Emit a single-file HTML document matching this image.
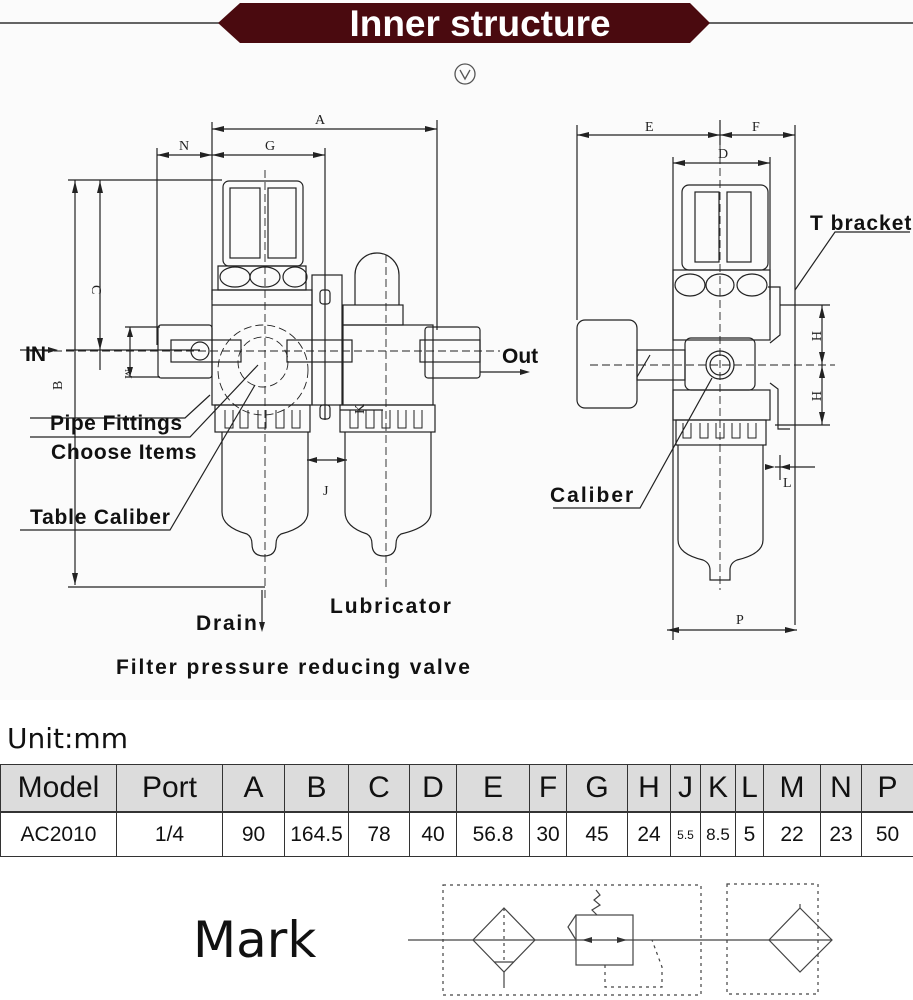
<!DOCTYPE html>
<html><head><meta charset="utf-8"><style>
html,body{margin:0;padding:0;background:#fff;}
body{width:913px;height:1000px;position:relative;overflow:hidden;font-family:"Liberation Sans",sans-serif;}
svg{position:absolute;left:0;top:0}
.t{font-family:"Liberation Sans",sans-serif;font-weight:bold;fill:#111}
.s{font-family:"Liberation Serif",serif;fill:#222;font-size:14px}
table{position:absolute;left:0;top:764px;width:913px;border-collapse:collapse;table-layout:fixed}
td{border:1.5px solid #333;text-align:center;padding:0;font-size:21px;color:#111;overflow:hidden;white-space:nowrap}
tr.h td{background:#dcdcdc;height:46px;font-size:30px;border-bottom:2.5px solid #333}
tr.d td{height:43px}
</style></head><body>
<svg width="913" height="1000" viewBox="0 0 913 1000">
<rect x="0" y="0" width="913" height="700" fill="#fbfbfb"/>
<line x1="0" y1="23" x2="913" y2="23" stroke="#333" stroke-width="1.5"/>
<polygon points="218,23 240,3 690,3 710,23 690,43 240,43" fill="#4a0a0f"/>
<text x="480" y="36" text-anchor="middle" class="t" style="fill:#fff;font-size:37px">Inner structure</text>
<circle cx="465" cy="74" r="10" fill="none" stroke="#555" stroke-width="1.3"/>
<polyline points="460,70 465,79 470,70" fill="none" stroke="#555" stroke-width="1.3"/>

<g fill="none" stroke="#222" stroke-width="1.2">
<line x1="212" y1="122" x2="212" y2="300"/><line x1="437" y1="120" x2="437" y2="330"/>
<line x1="212" y1="129" x2="437" y2="129"/>
<line x1="157" y1="148" x2="157" y2="345"/><line x1="325" y1="148" x2="325" y2="420"/>
<line x1="157" y1="155" x2="325" y2="155"/>
<line x1="68" y1="180" x2="222" y2="180"/>
<line x1="75" y1="180" x2="75" y2="585"/><line x1="100" y1="180" x2="100" y2="370"/>
<line x1="68" y1="587" x2="265" y2="587"/>
<line x1="66" y1="350" x2="200" y2="350"/>
<line x1="125" y1="327" x2="160" y2="327"/><line x1="125" y1="377" x2="160" y2="377"/>
<line x1="130" y1="327" x2="130" y2="377"/>
<rect x="223" y="181" width="80" height="85" rx="6"/>
<rect x="230" y="188" width="30" height="70"/><rect x="268" y="188" width="28" height="70"/>
<path d="M218,266 h88 v24 h-88 z"/>
<ellipse cx="235" cy="277" rx="15" ry="10"/><ellipse cx="265" cy="277" rx="15" ry="10"/><ellipse cx="295" cy="277" rx="12" ry="10"/>
<rect x="212" y="290" width="100" height="115"/>
<line x1="212" y1="305" x2="312" y2="305"/>
<rect x="312" y="275" width="30" height="130"/>
<rect x="320" y="290" width="10" height="14" rx="3"/><rect x="320" y="405" width="10" height="14" rx="3"/>
<rect x="158" y="325" width="54" height="53" rx="3"/>
<rect x="171" y="340" width="70" height="22"/>
<circle cx="200" cy="351" r="9"/>
<rect x="287" y="340" width="65" height="22"/>
<path d="M355,305 v-30 a22,22 0 0 1 44,0 v30"/>
<rect x="343" y="305" width="60" height="20"/>
<rect x="343" y="325" width="90" height="80"/>
<rect x="425" y="327" width="55" height="51" rx="3"/>
<rect x="420" y="340" width="60" height="22"/>
<line x1="340" y1="410" x2="383" y2="410"/>
<rect x="215" y="405" width="95" height="27"/>
<rect x="340" y="405" width="95" height="27"/>
<g stroke-width="1"><path d="M225,410 v18 h8 v-18 M240,410 v18 h8 v-18 M258,410 v18 h8 v-18 M276,410 v18 h8 v-18 M292,410 v18 h8 v-18"/>
<path d="M350,410 v18 h8 v-18 M366,410 v18 h8 v-18 M382,410 v18 h8 v-18 M398,410 v18 h8 v-18 M414,410 v18 h8 v-18"/></g>
<path d="M222,432 v80 q0,15 25,22 q5,3 5,10 q0,12 12,12 q12,0 12,-12 q0,-7 5,-10 q27,-7 27,-22 v-80"/>
<path d="M345,432 v80 q0,15 22,22 q5,3 5,10 q0,12 12,12 q12,0 12,-12 q0,-7 5,-10 q30,-7 30,-22 v-80"/>
<line x1="307" y1="460" x2="347" y2="460"/>
<g stroke-dasharray="8,4" stroke-width="0.9">
<line x1="265" y1="170" x2="265" y2="600"/><line x1="386" y1="255" x2="386" y2="590"/>
<line x1="30" y1="351" x2="500" y2="351"/>
<circle cx="263" cy="370" r="45"/><circle cx="263" cy="362" r="25"/>
</g>
<line x1="262" y1="590" x2="262" y2="628"/>
<polyline points="30,418 185,418 210,395"/>
<polyline points="30,437 190,437 258,365"/>
<polyline points="20,530 170,530 255,385"/>
<line x1="20" y1="350" x2="55" y2="350"/>
<line x1="480" y1="372" x2="520" y2="372"/>

<line x1="577" y1="125" x2="577" y2="320"/><line x1="720" y1="120" x2="720" y2="145"/>
<line x1="795" y1="125" x2="795" y2="625"/>
<line x1="577" y1="135" x2="795" y2="135"/>
<line x1="673" y1="157" x2="673" y2="640"/><line x1="770" y1="157" x2="770" y2="300"/>
<line x1="673" y1="163" x2="770" y2="163"/>
<line x1="667" y1="630" x2="797" y2="630"/>
<rect x="682" y="185" width="86" height="85" rx="7"/>
<rect x="695" y="192" width="24" height="70"/><rect x="727" y="192" width="24" height="70"/>
<rect x="673" y="270" width="97" height="70"/>
<ellipse cx="690" cy="285" rx="15" ry="11"/><ellipse cx="720" cy="285" rx="14" ry="11"/><ellipse cx="752" cy="285" rx="15" ry="11"/>
<rect x="685" y="338" width="70" height="52" rx="6"/>
<circle cx="720" cy="365" r="14"/><circle cx="720" cy="365" r="10"/>
<rect x="673" y="390" width="97" height="30"/>
<rect x="577" y="320" width="60" height="88" rx="8"/>
<rect x="637" y="350" width="48" height="30"/>
<line x1="637" y1="377" x2="650" y2="355"/>
<path d="M768,287 h12 v48 l-10,8 M770,383 l8,6 v40 h12"/>
<rect x="676" y="420" width="90" height="25"/>
<path d="M683,423 v15 h8 v-15 M700,423 v15 h8 v-15 M716,423 v15 h8 v-15 M732,423 v15 h8 v-15 M748,423 v15 h8 v-15" stroke-width="1"/>
<path d="M678,445 v95 q0,14 25,20 q7,3 7,10 v10 h20 v-10 q0,-7 7,-10 q26,-6 26,-20 v-95"/>
<line x1="780" y1="305" x2="830" y2="305"/><line x1="775" y1="425" x2="830" y2="425"/>
<line x1="822" y1="305" x2="822" y2="425"/>
<line x1="775" y1="467" x2="815" y2="467"/><line x1="780" y1="455" x2="780" y2="480"/>
<g stroke-dasharray="8,4" stroke-width="0.9">
<line x1="720" y1="120" x2="720" y2="590"/><line x1="590" y1="365" x2="835" y2="365"/>
</g>
<polyline points="910,232 835,232 795,290"/>
<polyline points="553,508 640,508 712,378"/>
</g>
<g fill="#222">
<polygon points="212,129 224,126 224,132"/><polygon points="437,129 425,126 425,132"/>
<polygon points="157,155 169,152 169,158"/><polygon points="212,155 200,152 200,158"/><polygon points="212,155 224,152 224,158"/><polygon points="325,155 313,152 313,158"/>
<polygon points="75,181 72,193 78,193"/><polygon points="75,585 72,573 78,573"/>
<polygon points="100,181 97,193 103,193"/><polygon points="100,350 97,338 103,338"/>
<polygon points="130,327 127,337 133,337"/><polygon points="130,377 127,367 133,367"/>
<polygon points="58,350 48,347 48,353"/><polygon points="530,372 520,369 520,375"/>
<polygon points="262,632 259,622 265,622"/>
<polygon points="307,460 317,457 317,463"/><polygon points="347,460 337,457 337,463"/>
<polygon points="577,135 589,132 589,138"/><polygon points="720,135 708,132 708,138"/><polygon points="720,135 732,132 732,138"/><polygon points="795,135 783,132 783,138"/>
<polygon points="673,163 685,160 685,166"/><polygon points="770,163 758,160 758,166"/>
<polygon points="667,630 679,627 679,633"/><polygon points="797,630 785,627 785,633"/>
<polygon points="822,306 819,318 825,318"/><polygon points="822,364 819,352 825,352"/><polygon points="822,366 819,378 825,378"/><polygon points="822,424 819,412 825,412"/>
<polygon points="775,467 765,464 765,470"/><polygon points="780,467 790,464 790,470"/>
</g>
<text class="s" x="315" y="124">A</text><text class="s" x="179" y="150">N</text><text class="s" x="265" y="150">G</text>
<text class="s" x="92" y="285" transform="rotate(90 92 285)">C</text>
<text class="s" x="60" y="378" transform="rotate(-90 67 383)">B</text>
<text class="s" x="115" y="365" transform="rotate(90 118 372)" style="font-size:11px">M</text>
<text class="s" x="360" y="410" transform="rotate(-90 364 410)">K</text>
<text class="s" x="323" y="495">J</text>
<text class="s" x="645" y="131">E</text><text class="s" x="752" y="131">F</text><text class="s" x="718" y="158">D</text>
<text class="s" x="736" y="624">P</text><text class="s" x="783" y="487">L</text>
<text class="s" x="808" y="335" transform="rotate(90 812 335)">H</text><text class="s" x="808" y="395" transform="rotate(90 812 395)">H</text>
<g class="t" style="font-size:21px">
<text x="25" y="361">IN</text><text x="502" y="363">Out</text>
<text x="50" y="430" letter-spacing="0.5">Pipe Fittings</text>
<text x="51" y="459" letter-spacing="0.7">Choose Items</text>
<text x="30" y="524" letter-spacing="0.8">Table Caliber</text>
<text x="196" y="630" letter-spacing="1.8">Drain</text>
<text x="330" y="613" letter-spacing="1.9">Lubricator</text>
<text x="116" y="674" letter-spacing="1.9">Filter pressure reducing valve</text>
<text x="810" y="230" letter-spacing="1">T bracket</text>
<text x="550" y="502" letter-spacing="2">Caliber</text>
</g>
<text x="7" y="748" style="font-family:'DejaVu Sans',sans-serif;font-size:28px;fill:#111">Unit:mm</text>
<text x="193" y="957" style="font-family:'DejaVu Sans',sans-serif;font-size:50px;fill:#111">Mark</text>
<g fill="none" stroke="#444" stroke-width="1.2">
<line x1="408" y1="940" x2="832" y2="940"/>
<polygon points="504,908 535,940 504,972 473,940"/>
<line x1="494" y1="962" x2="514" y2="962"/><line x1="504" y1="972" x2="504" y2="988"/>
<rect x="576" y="915" width="57" height="50"/>
<polyline points="576,915 568,927 576,940"/>
<polyline points="597,915 592,910 600,905 594,900 600,895 596,890"/>
<polygon points="800,908 832,940 800,972 769,940"/>
<line x1="800" y1="908" x2="800" y2="904"/>
<g stroke-dasharray="3,4"><rect x="443" y="885" width="258" height="110"/><rect x="727" y="884" width="91" height="110"/>
<line x1="504" y1="908" x2="504" y2="962"/>
<path d="M605,965 v22 h57 v-20 l-10,-27"/></g>
</g>
<g fill="#333"><polygon points="582,940 592,937 592,943"/><polygon points="627,940 617,937 617,943"/></g>
</svg>
<table>
<colgroup><col style="width:116px"><col style="width:106px"><col style="width:62px"><col style="width:64px"><col style="width:61px"><col style="width:47px"><col style="width:73px"><col style="width:37px"><col style="width:61px"><col style="width:43px"><col style="width:30px"><col style="width:35px"><col style="width:28px"><col style="width:57px"><col style="width:41px"><col style="width:52px"></colgroup>
<tr class="h"><td>Model</td><td>Port</td><td>A</td><td>B</td><td>C</td><td>D</td><td>E</td><td>F</td><td>G</td><td>H</td><td>J</td><td>K</td><td>L</td><td>M</td><td>N</td><td>P</td></tr>
<tr class="d"><td>AC2010</td><td>1/4</td><td>90</td><td>164.5</td><td>78</td><td>40</td><td>56.8</td><td>30</td><td>45</td><td>24</td><td style="font-size:12px">5.5</td><td style="font-size:17px">8.5</td><td>5</td><td>22</td><td>23</td><td>50</td></tr>
</table>
</body></html>
